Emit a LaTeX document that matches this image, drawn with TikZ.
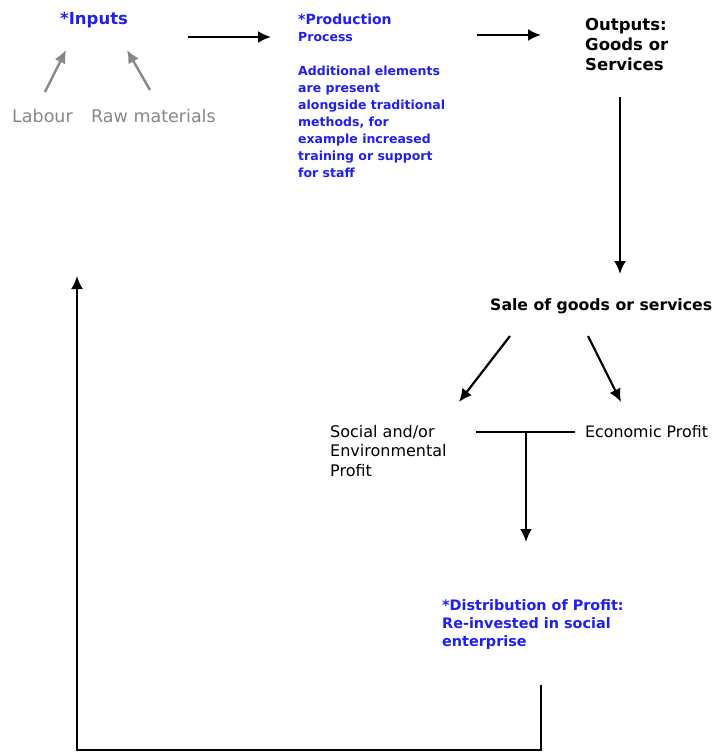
\documentclass[tikz,border=0pt]{standalone}
\usepackage{fontspec}
\setmainfont{DejaVu Sans}
\usepackage{xcolor}
\usepackage{tikz}
\usetikzlibrary{arrows.meta}

\definecolor{flowblue}{RGB}{30,30,245}
\definecolor{flowgray}{RGB}{135,135,135}

\tikzset{
  flowtext/.style={anchor=north west, inner sep=0pt, align=left},
  flowarrow/.style={line width=2.2pt, -{Latex[length=13pt,width=12pt]}},
  flowline/.style={line width=2.2pt},
  grayarrow/.style={flowgray, line width=2.4pt, -{Latex[length=13pt,width=12pt]}},
}

\begin{document}
\begin{tikzpicture}[x=1pt,y=-1pt]
  \useasboundingbox (0,0) rectangle (712,753);

  % text blocks
  \node[flowtext, text=flowblue, font=\bfseries\fontsize{16.5}{18}\selectfont] (inputs) at (60,12) {*Inputs};
  \node[flowtext, text=flowgray, font=\fontsize{17.5}{19}\selectfont] (labour) at (12,109) {Labour};
  \node[flowtext, text=flowgray, font=\fontsize{17.5}{19}\selectfont] (raw) at (91,109) {Raw materials};
  \node[flowtext, text=flowblue, font=\bfseries\fontsize{12.5}{17}\selectfont] (production) at (298,14)
    {{\fontsize{14}{16}\selectfont *Production}\\Process\\[17pt]Additional elements\\are present\\alongside traditional\\methods, for\\example increased\\training or support\\for staff};
  \node[flowtext, font=\bfseries\fontsize{16.5}{20}\selectfont] (outputs) at (585,18) {Outputs:\\Goods or\\Services};
  \node[flowtext, font=\bfseries\fontsize{15.7}{19}\selectfont] (sale) at (490,298) {Sale of goods or services};
  \node[flowtext, font=\fontsize{16}{19.5}\selectfont] (social) at (330,425) {Social and/or\\Environmental\\Profit};
  \node[flowtext, font=\fontsize{15.8}{19.5}\selectfont] (economic) at (585,425) {Economic Profit};
  \node[flowtext, text=flowblue, font=\bfseries\fontsize{14.4}{18}\selectfont] (distribution) at (442,599)
    {*Distribution of Profit:\\Re-invested in social\\enterprise};

  % connector ends
  \coordinate (in-end) at (188,37);
  \coordinate (prod-in) at (271,37);
  \coordinate (prod-end) at (477,35);
  \coordinate (out-in) at (541,35);
  \coordinate (out-end) at (620,97);
  \coordinate (sale-in) at (620,274);
  \coordinate (sale-left) at (510,336);
  \coordinate (social-in) at (459,402);
  \coordinate (sale-right) at (588,336);
  \coordinate (economic-in) at (621,402);
  \coordinate (profit-left) at (476,432);
  \coordinate (profit-right) at (575,432);
  \coordinate (profit-mid) at (526,432);
  \coordinate (dist-in) at (526,542);
  \coordinate (dist-end) at (541,685);
  \coordinate (loop-in) at (77,276);

  \draw[grayarrow] (45,92) -- (66,50); % labour-inputs
  \draw[grayarrow] (150,90) -- (127,50); % raw-inputs
  \draw[flowarrow] (in-end) -- (prod-in); % inputs-production
  \draw[flowarrow] (prod-end) -- (out-in); % production-outputs
  \draw[flowarrow] (out-end) -- (sale-in); % outputs-sale
  \draw[flowarrow] (sale-left) -- (social-in); % sale-social
  \draw[flowarrow] (sale-right) -- (economic-in); % sale-economic
  \draw[flowline] (profit-left) -- (profit-right); % social-economic
  \draw[flowarrow] (profit-mid) -- (dist-in); % profit-distribution
  \draw[flowarrow] (dist-end) |- (77,750) -- (loop-in); % distribution-inputs
\end{tikzpicture}
\end{document}
